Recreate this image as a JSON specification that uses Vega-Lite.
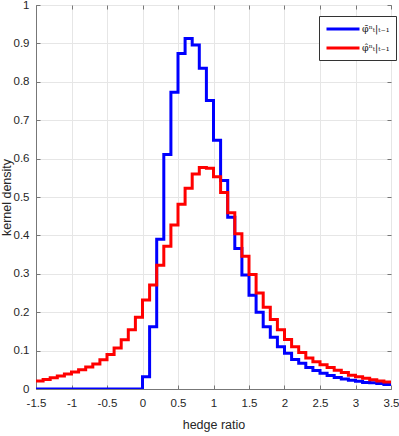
{
  "$schema": "https://vega.github.io/schema/vega-lite/v6.json",
  "width": 355,
  "height": 384,
  "autosize": "none",
  "padding": {"left": 36, "top": 5, "right": 8, "bottom": 47},
  "background": "white",
  "config": {
    "view": {"stroke": "#777777", "strokeWidth": 1},
    "axis": {
      "domainColor": "#777777",
      "tickColor": "#777777",
      "gridColor": "#e6e6e6",
      "labelFont": "Liberation Sans",
      "labelFontSize": 11.5,
      "labelColor": "#262626",
      "titleFont": "Liberation Sans",
      "titleFontSize": 12.5,
      "titleFontWeight": "normal",
      "titleColor": "#262626",
      "tickSize": -4
    }
  },
  "data": {
    "values": [
      {"s": "b", "x": -1.5, "y": 0}, {"s": "b", "x": -1.4, "y": 0}, {"s": "b", "x": -1.3, "y": 0}, {"s": "b", "x": -1.2, "y": 0}, {"s": "b", "x": -1.1, "y": 0},
      {"s": "b", "x": -1.0, "y": 0}, {"s": "b", "x": -0.9, "y": 0}, {"s": "b", "x": -0.8, "y": 0}, {"s": "b", "x": -0.7, "y": 0}, {"s": "b", "x": -0.6, "y": 0},
      {"s": "b", "x": -0.5, "y": 0}, {"s": "b", "x": -0.4, "y": 0}, {"s": "b", "x": -0.3, "y": 0}, {"s": "b", "x": -0.2, "y": 0}, {"s": "b", "x": -0.1, "y": 0},
      {"s": "b", "x": 0.0, "y": 0.032}, {"s": "b", "x": 0.1, "y": 0.162}, {"s": "b", "x": 0.2, "y": 0.39}, {"s": "b", "x": 0.3, "y": 0.611}, {"s": "b", "x": 0.4, "y": 0.773},
      {"s": "b", "x": 0.5, "y": 0.874}, {"s": "b", "x": 0.6, "y": 0.913}, {"s": "b", "x": 0.7, "y": 0.896}, {"s": "b", "x": 0.8, "y": 0.835}, {"s": "b", "x": 0.9, "y": 0.751},
      {"s": "b", "x": 1.0, "y": 0.648}, {"s": "b", "x": 1.1, "y": 0.543}, {"s": "b", "x": 1.2, "y": 0.447}, {"s": "b", "x": 1.3, "y": 0.366}, {"s": "b", "x": 1.4, "y": 0.297},
      {"s": "b", "x": 1.5, "y": 0.244}, {"s": "b", "x": 1.6, "y": 0.2}, {"s": "b", "x": 1.7, "y": 0.162}, {"s": "b", "x": 1.8, "y": 0.135}, {"s": "b", "x": 1.9, "y": 0.11},
      {"s": "b", "x": 2.0, "y": 0.093}, {"s": "b", "x": 2.1, "y": 0.077}, {"s": "b", "x": 2.2, "y": 0.067}, {"s": "b", "x": 2.3, "y": 0.056}, {"s": "b", "x": 2.4, "y": 0.048},
      {"s": "b", "x": 2.5, "y": 0.041}, {"s": "b", "x": 2.6, "y": 0.035}, {"s": "b", "x": 2.7, "y": 0.03}, {"s": "b", "x": 2.8, "y": 0.026}, {"s": "b", "x": 2.9, "y": 0.023},
      {"s": "b", "x": 3.0, "y": 0.02}, {"s": "b", "x": 3.1, "y": 0.017}, {"s": "b", "x": 3.2, "y": 0.016}, {"s": "b", "x": 3.3, "y": 0.014}, {"s": "b", "x": 3.4, "y": 0.012},
      {"s": "b", "x": 3.5, "y": 0.012},
      {"s": "r", "x": -1.5, "y": 0.021}, {"s": "r", "x": -1.4, "y": 0.025}, {"s": "r", "x": -1.3, "y": 0.029}, {"s": "r", "x": -1.2, "y": 0.034}, {"s": "r", "x": -1.1, "y": 0.039},
      {"s": "r", "x": -1.0, "y": 0.044}, {"s": "r", "x": -0.9, "y": 0.05}, {"s": "r", "x": -0.8, "y": 0.057}, {"s": "r", "x": -0.7, "y": 0.065}, {"s": "r", "x": -0.6, "y": 0.076},
      {"s": "r", "x": -0.5, "y": 0.09}, {"s": "r", "x": -0.4, "y": 0.107}, {"s": "r", "x": -0.3, "y": 0.128}, {"s": "r", "x": -0.2, "y": 0.154}, {"s": "r", "x": -0.1, "y": 0.187},
      {"s": "r", "x": 0.0, "y": 0.232}, {"s": "r", "x": 0.1, "y": 0.271}, {"s": "r", "x": 0.2, "y": 0.322}, {"s": "r", "x": 0.3, "y": 0.372}, {"s": "r", "x": 0.4, "y": 0.427},
      {"s": "r", "x": 0.5, "y": 0.481}, {"s": "r", "x": 0.6, "y": 0.523}, {"s": "r", "x": 0.7, "y": 0.56}, {"s": "r", "x": 0.8, "y": 0.577}, {"s": "r", "x": 0.9, "y": 0.575},
      {"s": "r", "x": 1.0, "y": 0.553}, {"s": "r", "x": 1.1, "y": 0.512}, {"s": "r", "x": 1.2, "y": 0.459}, {"s": "r", "x": 1.3, "y": 0.404}, {"s": "r", "x": 1.4, "y": 0.346},
      {"s": "r", "x": 1.5, "y": 0.298}, {"s": "r", "x": 1.6, "y": 0.25}, {"s": "r", "x": 1.7, "y": 0.213}, {"s": "r", "x": 1.8, "y": 0.181}, {"s": "r", "x": 1.9, "y": 0.154},
      {"s": "r", "x": 2.0, "y": 0.129}, {"s": "r", "x": 2.1, "y": 0.11}, {"s": "r", "x": 2.2, "y": 0.095}, {"s": "r", "x": 2.3, "y": 0.081}, {"s": "r", "x": 2.4, "y": 0.071},
      {"s": "r", "x": 2.5, "y": 0.063}, {"s": "r", "x": 2.6, "y": 0.056}, {"s": "r", "x": 2.7, "y": 0.049}, {"s": "r", "x": 2.8, "y": 0.043}, {"s": "r", "x": 2.9, "y": 0.036},
      {"s": "r", "x": 3.0, "y": 0.032}, {"s": "r", "x": 3.1, "y": 0.028}, {"s": "r", "x": 3.2, "y": 0.024}, {"s": "r", "x": 3.3, "y": 0.021}, {"s": "r", "x": 3.4, "y": 0.018},
      {"s": "r", "x": 3.5, "y": 0.018}
    ]
  },
  "layer": [
    {
      "mark": {"type": "line", "interpolate": "step-after", "strokeWidth": 3, "clip": true},
      "encoding": {
        "x": {
          "field": "x", "type": "quantitative",
          "scale": {"domain": [-1.5, 3.5], "nice": false, "zero": false},
          "axis": {"title": "hedge ratio", "values": [-1.5, -1, -0.5, 0, 0.5, 1, 1.5, 2, 2.5, 3, 3.5], "labelExpr": "datum.value + ''", "labelPadding": 12, "titlePadding": 10, "labelFlush": false}
        },
        "y": {
          "field": "y", "type": "quantitative",
          "scale": {"domain": [0, 1], "nice": false},
          "axis": {"title": "kernel density", "values": [0, 0.1, 0.2, 0.3, 0.4, 0.5, 0.6, 0.7, 0.8, 0.9, 1], "labelExpr": "datum.value + ''", "labelPadding": 11, "titleX": -23, "titleBaseline": "bottom", "labelFlush": false}
        },
        "color": {
          "field": "s", "type": "nominal",
          "scale": {"domain": ["b", "r"], "range": ["#0000ff", "#ff0000"]},
          "legend": {
            "title": null,
            "orient": "none",
            "legendX": 283,
            "legendY": 11,
            "strokeColor": "#333333",
            "fillColor": "white",
            "padding": 6,
            "symbolType": "M-1,0H5",
            "symbolSize": 121,
            "symbolStrokeWidth": 3,
            "labelOffset": 23,
            "rowPadding": 6,
            "labelFont": "DejaVu Serif",
            "labelFontSize": 9.5,
            "labelColor": "#111111",
            "labelExpr": "datum.value == 'b' ? 'φ̄ⁿₜ|ₜ₋₁' : 'φ̂ⁿₜ|ₜ₋₁'"
          }
        }
      }
    },
    {
      "mark": {"type": "line", "opacity": 0},
      "encoding": {
        "x": {"field": "x", "type": "quantitative", "axis": {"orient": "top", "labels": false, "grid": false, "domain": false, "title": null, "values": [-1.5, -1, -0.5, 0, 0.5, 1, 1.5, 2, 2.5, 3, 3.5]}},
        "y": {"field": "y", "type": "quantitative", "axis": {"orient": "right", "labels": false, "grid": false, "domain": false, "title": null, "values": [0, 0.1, 0.2, 0.3, 0.4, 0.5, 0.6, 0.7, 0.8, 0.9, 1]}}
      }
    }
  ],
  "resolve": {"axis": {"x": "independent", "y": "independent"}}
}
